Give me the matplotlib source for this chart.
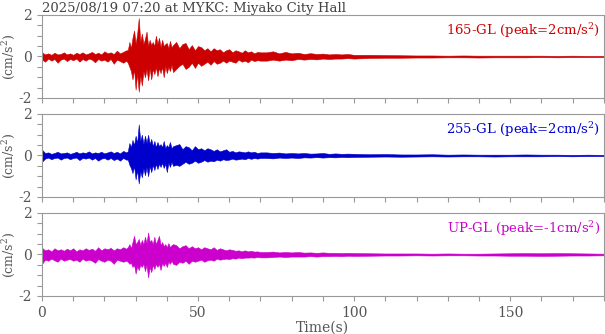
import matplotlib.pyplot as plt
import numpy as np
from matplotlib.ticker import MultipleLocator

plt.rcParams['font.family'] = 'DejaVu Serif'
plt.rcParams['mathtext.fontset'] = 'dejavuserif'
plt.rcParams['axes.unicode_minus'] = False

# sample times (s) of the envelope readings (finer in the strong-motion part)
TIME = np.concatenate([np.arange(0, 28), np.arange(27.5, 42.5, 0.5), np.arange(43, 71),
                       np.arange(72, 101, 2), np.arange(105, 181, 5)])

# 165-GL (red): upper / lower envelope, cm/s2
HI_165 = [0.2, 0.1, 0.15, 0.08, 0.18, 0.1, 0.12, 0.2, 0.1, 0.15, 0.08, 0.18, 0.12, 0.2, 0.1, 0.15,
          0.22, 0.12, 0.18, 0.1, 0.25, 0.15, 0.2, 0.12, 0.28, 0.15, 0.22, 0.3,
          0.3, 0.7, 0.4, 0.9, 1.25, 0.6, 1.1, 1.85, 0.7, 1.1, 0.6, 0.85, 1.2, 0.5, 0.8, 0.55, 0.7, 0.5,
          1.0, 0.6, 0.9, 0.45, 0.8, 0.5, 0.6, 0.65, 0.4, 0.75, 0.45, 0.55,
          0.7, 0.4, 0.6, 0.65, 0.35, 0.55, 0.3, 0.5, 0.45, 0.3, 0.4, 0.25, 0.4, 0.3, 0.35, 0.2, 0.3,
          0.35, 0.2, 0.3, 0.25, 0.18, 0.3, 0.2, 0.25, 0.15, 0.22, 0.2,
          0.2, 0.25, 0.15, 0.22, 0.15, 0.18, 0.12, 0.16, 0.12, 0.14, 0.1, 0.12, 0.1, 0.12, 0.08,
          0.08, 0.07, 0.06, 0.05, 0.05, 0.04, 0.05, 0.04, 0.04, 0.04, 0.04, 0.04, 0.03, 0.04, 0.03, 0.03]
LO_165 = [-0.15, -0.25, -0.1, -0.2, -0.12, -0.3, -0.15, -0.1, -0.22, -0.12, -0.18, -0.1, -0.25, -0.12,
          -0.2, -0.1, -0.15, -0.28, -0.12, -0.2, -0.15, -0.25, -0.12, -0.35, -0.15, -0.22, -0.3, -0.2,
          -0.3, -0.5, -0.7, -1.1, -0.6, -1.6, -0.8, -1.7, -0.9, -1.4, -0.7, -1.0, -0.6, -1.15, -0.55,
          -1.1, -0.6, -0.85, -0.5, -0.95, -0.55, -0.8, -0.5, -1.0, -0.45, -0.8, -0.5, -0.7, -0.4, -0.75,
          -0.6, -0.45, -0.35, -0.6, -0.5, -0.3, -0.55, -0.3, -0.45, -0.35, -0.25, -0.4, -0.22, -0.35,
          -0.3, -0.2, -0.3, -0.2, -0.25, -0.3, -0.15, -0.25, -0.2, -0.28, -0.15, -0.22, -0.18, -0.2,
          -0.2, -0.15, -0.2, -0.15, -0.18, -0.12, -0.15, -0.12, -0.14, -0.1, -0.12, -0.1, -0.1, -0.08,
          -0.1,
          -0.07, -0.06, -0.06, -0.05, -0.05, -0.04, -0.04, -0.05, -0.04, -0.04, -0.04, -0.03, -0.04,
          -0.03, -0.03, -0.03]

# 255-GL (blue)
HI_255 = [0.28, 0.12, 0.15, 0.08, 0.12, 0.18, 0.1, 0.12, 0.15, 0.08, 0.12, 0.18, 0.1, 0.15, 0.12, 0.2,
          0.1, 0.15, 0.12, 0.18, 0.1, 0.15, 0.2, 0.12, 0.18, 0.1, 0.22, 0.15,
          0.2, 0.6, 0.4, 0.75, 0.5, 0.95, 0.6, 1.5, 0.7, 1.0, 0.55, 0.95, 0.6, 1.0, 0.55, 0.8, 0.45,
          0.7, 0.4, 0.65, 0.45, 0.55, 0.4, 0.7, 0.35, 0.5, 0.4, 0.65, 0.35, 0.45,
          0.5, 0.55, 0.3, 0.45, 0.4, 0.25, 0.45, 0.3, 0.35, 0.25, 0.35, 0.3, 0.22, 0.3, 0.2, 0.25, 0.3,
          0.18, 0.22, 0.15, 0.2, 0.18, 0.15, 0.2, 0.15, 0.18, 0.12, 0.15,
          0.15, 0.12, 0.14, 0.1, 0.12, 0.1, 0.12, 0.09, 0.1, 0.12, 0.08, 0.1, 0.08, 0.09, 0.08,
          0.06, 0.07, 0.05, 0.05, 0.06, 0.04, 0.05, 0.04, 0.04, 0.04, 0.05, 0.04, 0.04, 0.03, 0.04, 0.03]
LO_255 = [-0.3, -0.15, -0.1, -0.18, -0.12, -0.1, -0.2, -0.12, -0.1, -0.18, -0.12, -0.1, -0.22, -0.12,
          -0.15, -0.1, -0.2, -0.12, -0.25, -0.15, -0.12, -0.2, -0.12, -0.22, -0.15, -0.25, -0.12, -0.2,
          -0.2, -0.45, -0.6, -0.85, -0.5, -1.15, -0.7, -1.35, -0.75, -1.05, -0.6, -0.95, -0.55, -1.0,
          -0.5, -0.8, -0.45, -0.7, -0.4, -0.65, -0.4, -0.55, -0.35, -0.6, -0.4, -0.8, -0.35, -0.55,
          -0.3, -0.5,
          -0.45, -0.5, -0.4, -0.3, -0.4, -0.35, -0.25, -0.35, -0.3, -0.22, -0.3, -0.25, -0.28, -0.2,
          -0.25, -0.18, -0.22, -0.2, -0.15, -0.2, -0.18, -0.15, -0.18, -0.12, -0.16, -0.12, -0.15, -0.12,
          -0.12, -0.14, -0.1, -0.12, -0.1, -0.12, -0.09, -0.1, -0.08, -0.1, -0.08, -0.09, -0.07, -0.08,
          -0.07,
          -0.06, -0.05, -0.06, -0.05, -0.04, -0.05, -0.04, -0.04, -0.05, -0.04, -0.04, -0.04, -0.03,
          -0.04, -0.03, -0.03]

# UP-GL (magenta)
HI_UP = [0.32, 0.2, 0.25, 0.15, 0.3, 0.2, 0.25, 0.18, 0.28, 0.2, 0.3, 0.15, 0.25, 0.2, 0.3, 0.22,
         0.28, 0.18, 0.35, 0.2, 0.3, 0.25, 0.32, 0.2, 0.3, 0.25, 0.35, 0.28,
         0.35, 0.5, 0.3, 0.6, 0.9, 0.5, 0.6, 0.75, 0.45, 0.7, 0.5, 0.85, 0.55, 1.06, 0.6, 0.7, 0.5,
         0.85, 0.5, 0.7, 0.9, 0.45, 0.6, 0.4, 0.5, 0.35, 0.55, 0.35, 0.45, 0.5,
         0.45, 0.3, 0.4, 0.45, 0.3, 0.4, 0.3, 0.35, 0.25, 0.35, 0.3, 0.25, 0.35, 0.22, 0.3, 0.25, 0.2,
         0.25, 0.22, 0.18, 0.2, 0.15, 0.2, 0.15, 0.18, 0.14, 0.15, 0.12,
         0.12, 0.14, 0.1, 0.12, 0.1, 0.12, 0.09, 0.1, 0.08, 0.1, 0.08, 0.08, 0.07, 0.08, 0.07,
         0.06, 0.05, 0.05, 0.05, 0.04, 0.05, 0.04, 0.04, 0.05, 0.06, 0.07, 0.06, 0.07, 0.06, 0.05, 0.04]
LO_UP = [-0.45, -0.25, -0.3, -0.2, -0.28, -0.35, -0.2, -0.3, -0.25, -0.22, -0.3, -0.25, -0.35, -0.2,
         -0.3, -0.25, -0.3, -0.4, -0.22, -0.3, -0.35, -0.25, -0.3, -0.45, -0.25, -0.3, -0.35, -0.3,
         -0.35, -0.45, -0.4, -0.6, -0.5, -0.92, -0.55, -0.75, -0.5, -0.6, -0.45, -0.8, -0.5, -1.1,
         -0.6, -0.85, -0.5, -0.7, -0.45, -0.6, -0.45, -0.75, -0.4, -0.55, -0.4, -0.6, -0.35, -0.45,
         -0.3, -0.45,
         -0.5, -0.35, -0.4, -0.3, -0.45, -0.3, -0.35, -0.3, -0.25, -0.35, -0.28, -0.25, -0.3, -0.2,
         -0.25, -0.22, -0.2, -0.22, -0.18, -0.2, -0.15, -0.18, -0.15, -0.15, -0.14, -0.15, -0.12, -0.14,
         -0.14, -0.12, -0.1, -0.12, -0.1, -0.1, -0.1, -0.08, -0.1, -0.08, -0.08, -0.07, -0.08, -0.06,
         -0.07,
         -0.06, -0.05, -0.05, -0.04, -0.05, -0.04, -0.04, -0.05, -0.05, -0.06, -0.06, -0.07, -0.06,
         -0.05, -0.05, -0.04]

LABELS = ['165-GL (peak=2cm/s$^2$)', '255-GL (peak=2cm/s$^2$)', 'UP-GL (peak=-1cm/s$^2$)']
COLORS = ['#cc0000', '#0000cc', '#cc00cc']
HIS = [HI_165, HI_255, HI_UP]
LOS = [LO_165, LO_255, LO_UP]

fig = plt.figure(figsize=(6.05, 3.34), dpi=100)
bottoms = [0.7066, 0.4102, 0.1138]

for i in range(3):
    ax = fig.add_axes([0.0694, bottoms[i], 0.9286, 0.2485])
    ax.fill_between(TIME, LOS[i], HIS[i], color=COLORS[i], lw=0.4)
    ax.set_xlim(0, 180)
    ax.set_ylim(-2, 2)
    ax.set_xticks([0, 50, 100, 150])
    ax.xaxis.set_minor_locator(MultipleLocator(10))
    ax.set_yticks([-2, 0, 2])
    ax.yaxis.set_minor_locator(MultipleLocator(0.5))
    ax.tick_params(which='both', direction='out', length=3.5, width=0.8,
                   colors='#999999', labelcolor='#555555', labelsize=10)
    for s in ax.spines.values():
        s.set_color('#999999')
    ax.set_ylabel('(cm/s$^2$)', color='#555555', fontsize=9)
    ax.yaxis.set_label_coords(-0.045, 0.5)
    ax.text(0.993, 0.93, LABELS[i], transform=ax.transAxes, ha='right', va='top',
            color=COLORS[i], fontsize=9.5)
    if i < 2:
        ax.set_xticklabels([])
    else:
        ax.set_xlabel('Time(s)', color='#555555', fontsize=10, labelpad=1)

fig.text(0.0694, 0.995, '2025/08/19 07:20 at MYKC: Miyako City Hall', va='top', ha='left',
         color='#444444', fontsize=9.5)

plt.savefig('out.png', dpi=100)
